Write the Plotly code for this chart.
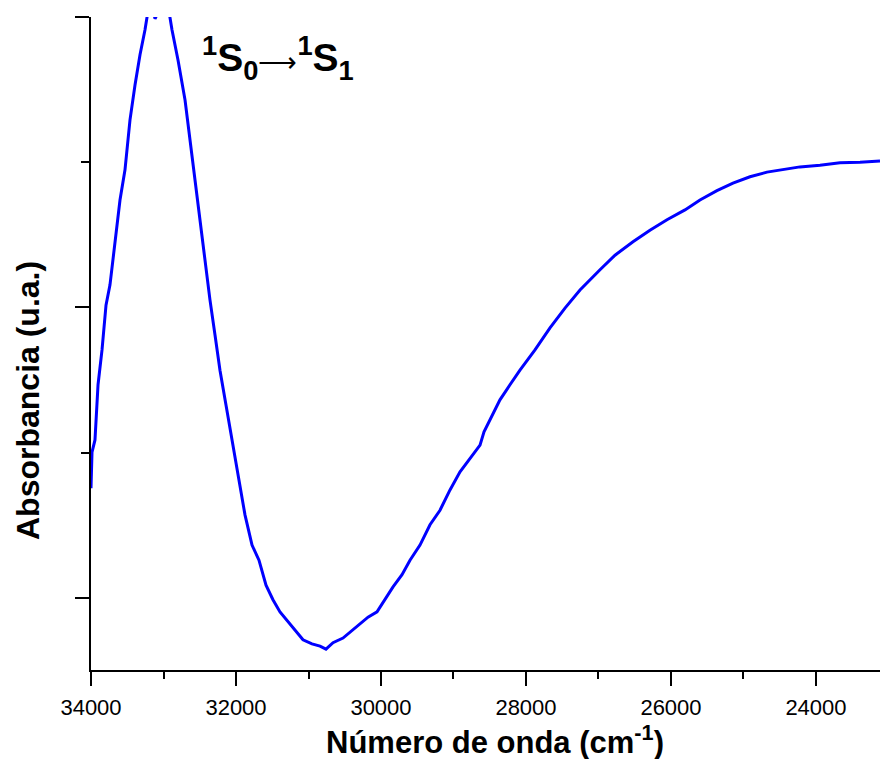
import plotly.graph_objects as go

# Wavenumber (cm^-1) and absorbance (a.u.)
wavenumber = [34000, 33986, 33945, 33903, 33848, 33793, 33738, 33669, 33600, 33531,
              33462, 33393, 33324, 33255, 33214, 33159, 33117, 33048, 32938, 32883,
              32800, 32703, 32634, 32566, 32497, 32428, 32359, 32290, 32221, 32138,
              32055, 31972, 31876, 31779, 31683, 31586, 31490, 31393, 31297, 31186,
              31076, 30952, 30841, 30759, 30662, 30524, 30428, 30290, 30179, 30055,
              29945, 29834, 29710, 29600, 29462, 29324, 29186, 29048, 28910, 28772,
              28634, 28579, 28469, 28359, 28221, 28083, 27876, 27669, 27462, 27255,
              26979, 26772, 26524, 26290, 26055, 25807, 25600, 25366, 25145, 24910,
              24676, 24428, 24221, 23945, 23669, 23393, 23117]
absorbance = [0.689, 0.751, 0.772, 0.867, 0.927, 1.004, 1.039, 1.108, 1.185, 1.237,
              1.323, 1.383, 1.435, 1.478, 1.510, 1.520, 1.497, 1.515, 1.520, 1.478,
              1.426, 1.357, 1.288, 1.219, 1.142, 1.082, 1.013, 0.953, 0.892, 0.832,
              0.772, 0.712, 0.643, 0.591, 0.565, 0.522, 0.497, 0.476, 0.462, 0.445,
              0.428, 0.421, 0.417, 0.412, 0.423, 0.431, 0.441, 0.457, 0.467, 0.476,
              0.497, 0.519, 0.540, 0.565, 0.591, 0.626, 0.651, 0.686, 0.717, 0.741,
              0.763, 0.786, 0.815, 0.841, 0.867, 0.892, 0.927, 0.965, 0.999, 1.030,
              1.065, 1.090, 1.113, 1.133, 1.151, 1.168, 1.185, 1.201, 1.214, 1.225,
              1.233, 1.238, 1.242, 1.245, 1.249, 1.250, 1.252]

x_tickvals = [34000, 32000, 30000, 28000, 26000, 24000]
x_ticktext = ["34000", "32000", "30000", "28000", "26000", "24000"]

FONT = "Liberation Sans, Arial, sans-serif"

fig = go.Figure()
fig.add_trace(go.Scatter(x=wavenumber, y=absorbance, mode="lines",
                         line=dict(color="#0000FF", width=3), showlegend=False))

fig.update_layout(
    width=880, height=759,
    margin=dict(l=91, r=0, t=17, b=89),
    plot_bgcolor="white", paper_bgcolor="white",
    font=dict(family=FONT, color="black"),
    xaxis=dict(range=[34000, 23117], tickvals=x_tickvals, ticktext=x_ticktext,
               showgrid=False, zeroline=False, showline=True, linecolor="black",
               linewidth=2, ticks="outside", ticklen=14, tickwidth=2, tickcolor="black",
               tickfont=dict(size=22, family=FONT), ticklabelstandoff=3,
               minor=dict(dtick=1000, ticks="outside", ticklen=7, tickwidth=2,
                          tickcolor="black", tick0=34000)),
    yaxis=dict(range=[0.376, 1.5], tickvals=[0.5, 1.0, 1.5], showticklabels=False,
               showgrid=False, zeroline=False, showline=True, linecolor="black",
               linewidth=2, ticks="outside", ticklen=14, tickwidth=2, tickcolor="black",
               minor=dict(tickvals=[0.75, 1.25], ticks="outside", ticklen=8,
                          tickwidth=2, tickcolor="black")),
)

fig.add_annotation(text="<b>Número de onda (cm<sup>-1</sup>)</b>", xref="paper", yref="paper",
                   x=(495 - 91) / 789, y=-(740 - 670) / 653, xanchor="center", yanchor="middle",
                   showarrow=False, font=dict(size=31, family=FONT, color="black"))
fig.add_annotation(text="<b>Absorbancia (u.a.)</b>", xref="paper", yref="paper",
                   x=-63 / 789, y=(670 - 401) / 653, xanchor="center", yanchor="middle",
                   textangle=-90, showarrow=False,
                   font=dict(size=32, family=FONT, color="black"))
fig.add_annotation(text="<b><sup>1</sup>S<sub>0</sub></b>"
                        "<span style='font-size:27px'>⟶</span>"
                        "<b><sup>1</sup>S<sub>1</sub></b>",
                   xref="paper", yref="paper",
                   x=(200 - 91) / 789, y=(670 - 58) / 653, xanchor="left", yanchor="middle",
                   showarrow=False, font=dict(size=39, family=FONT, color="black"))

fig.write_html("out.html")
